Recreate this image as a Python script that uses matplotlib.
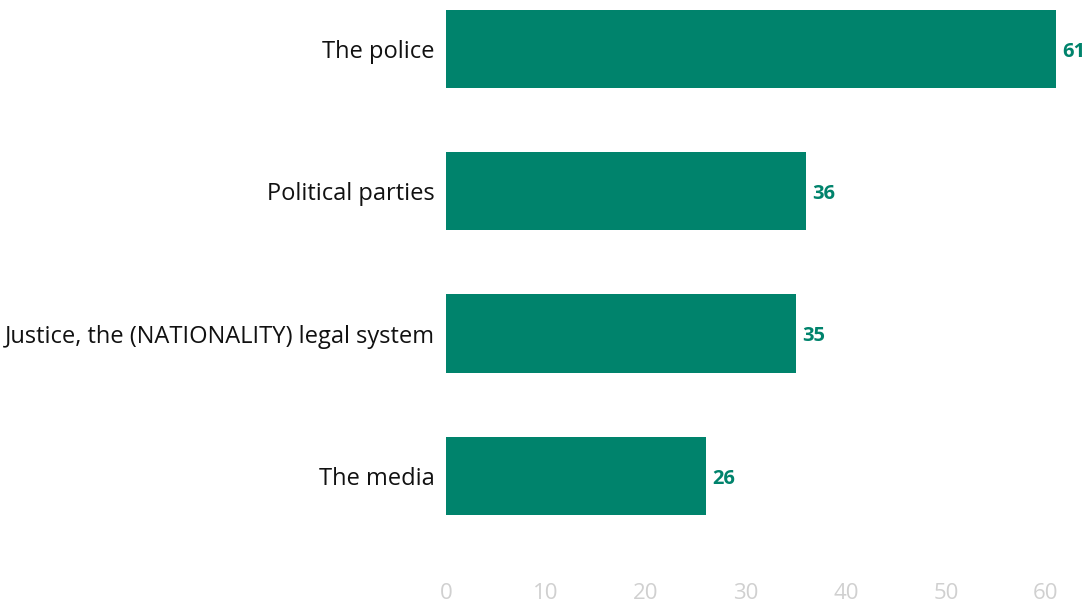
import matplotlib
matplotlib.use("Agg")
import matplotlib.pyplot as plt

categories = ["The police", "Political parties",
              "Justice, the (NATIONALITY) legal system", "The media"]
values = [61, 36, 35, 26]
xticks = [0, 10, 20, 30, 40, 50, 60]

green = "#00836c"
plt.rcParams["font.family"] = ["Open Sans", "DejaVu Sans"]

fig = plt.figure(figsize=(10.9, 6.12), dpi=100)
ax = fig.add_axes([446 / 1090, 1 - 580 / 612, 644 / 1090, 580 / 612])

pos = list(range(len(categories)))
ax.barh(pos, values, height=0.55, color=green)
for p, v in zip(pos, values):
    ax.text(v + 0.6, p + 0.02, str(v), va="center", ha="left",
            color=green, fontsize=14.5, fontweight="bold")

ax.set_xlim(0, 64.4)
ax.set_ylim(3 + 104 / 142, -49 / 142)
ax.set_yticks(pos)
ax.set_yticklabels(categories, fontsize=17, color="#111111")
ax.set_xticks(xticks)
ax.set_xticklabels([str(t) for t in xticks], fontsize=16, color="#d0d0d0")
ax.tick_params(axis="both", length=0)
ax.tick_params(axis="y", pad=8)
ax.tick_params(axis="x", pad=2)
for s in ax.spines.values():
    s.set_visible(False)

fig.savefig("out.png", dpi=100)
